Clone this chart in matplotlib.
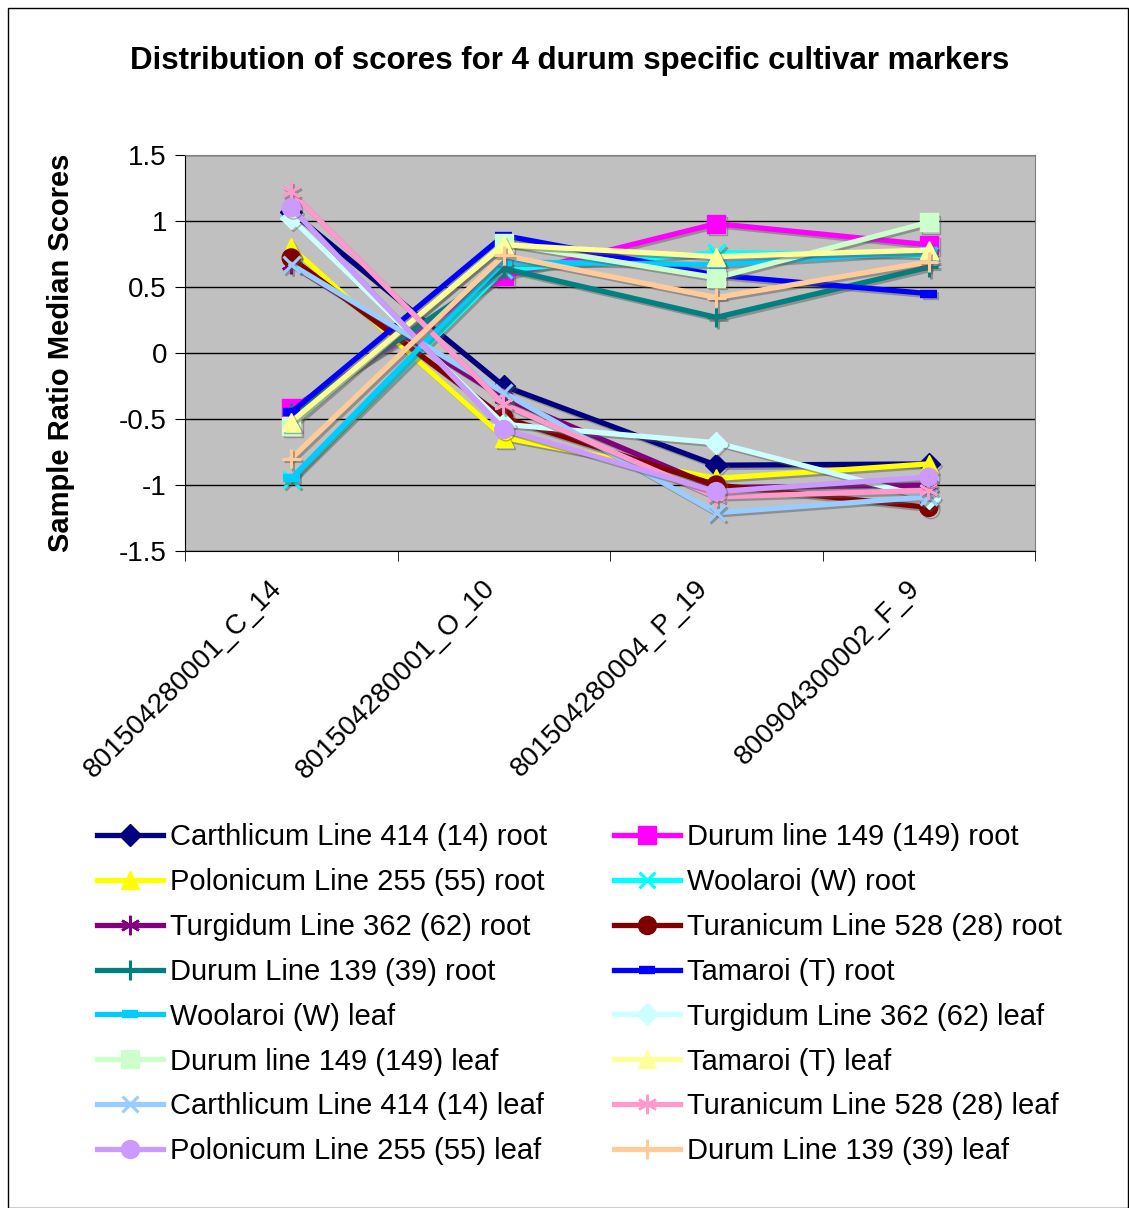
import matplotlib
matplotlib.use("Agg")
import matplotlib.pyplot as plt
import matplotlib.patheffects as pe
import matplotlib.transforms as mtransforms
from matplotlib.lines import Line2D
from matplotlib.patches import Rectangle
from matplotlib.ticker import FixedLocator

plt.rcParams['font.family'] = ['Liberation Sans', 'DejaVu Sans']

categories = ['801504280001_C_14', '801504280001_O_10',
              '801504280004_P_19', '800904300002_F_9']

series_names = [
    'Carthlicum Line 414 (14) root', 'Durum line 149 (149) root',
    'Polonicum Line 255 (55) root', 'Woolaroi (W) root',
    'Turgidum Line 362 (62) root', 'Turanicum Line 528 (28) root',
    'Durum Line 139 (39) root', 'Tamaroi (T) root',
    'Woolaroi (W) leaf', 'Turgidum Line 362 (62) leaf',
    'Durum line 149 (149) leaf', 'Tamaroi (T) leaf',
    'Carthlicum Line 414 (14) leaf', 'Turanicum Line 528 (28) leaf',
    'Polonicum Line 255 (55) leaf', 'Durum Line 139 (39) leaf',
]

carthlicum_root = [1.07, -0.25, -0.85, -0.84]
durum149_root = [-0.42, 0.58, 0.98, 0.82]
polonicum_root = [0.80, -0.64, -0.95, -0.84]
woolaroi_root = [-0.96, 0.63, 0.76, 0.74]
turgidum_root = [0.67, -0.34, -1.02, -1.00]
turanicum_root = [0.72, -0.49, -1.00, -1.17]
durum139_root = [-0.45, 0.64, 0.27, 0.65]
tamaroi_root = [-0.45, 0.89, 0.59, 0.45]
woolaroi_leaf = [-0.95, 0.69, 0.67, 0.77]
turgidum_leaf = [1.02, -0.54, -0.68, -1.10]
durum149_leaf = [-0.55, 0.83, 0.57, 0.99]
tamaroi_leaf = [-0.52, 0.82, 0.73, 0.78]
carthlicum_leaf = [0.67, -0.30, -1.21, -1.09]
turanicum_leaf = [1.22, -0.39, -1.09, -1.04]
polonicum_leaf = [1.10, -0.58, -1.05, -0.94]
durum139_leaf = [-0.80, 0.74, 0.42, 0.69]

series_values = [
    carthlicum_root, durum149_root, polonicum_root, woolaroi_root,
    turgidum_root, turanicum_root, durum139_root, tamaroi_root,
    woolaroi_leaf, turgidum_leaf, durum149_leaf, tamaroi_leaf,
    carthlicum_leaf, turanicum_leaf, polonicum_leaf, durum139_leaf,
]

colors = ['#000080', '#FF00FF', '#FFFF00', '#00FFFF', '#800080', '#800000',
          '#008080', '#0000FF', '#00CCFF', '#CCFFFF', '#CCFFCC', '#FFFF99',
          '#99CCFF', '#FF99CC', '#CC99FF', '#FFCC99']
asterisk = (6, 2, 0)
markers = ['D', 's', '^', 'x', asterisk, 'o', '+', '_',
           '_', 'D', 's', '^', 'x', asterisk, 'o', '+']
msizes = [11, 13, 13, 12, 14, 13, 14, 12, 12, 11, 13, 13, 12, 14, 13, 14]

fig = plt.figure(figsize=(11.29, 12.08), dpi=100)
fig.patch.set_facecolor('white')
fig.patches.append(Rectangle((8 / 1129, 0), 1120 / 1129, 1 - 8 / 1208,
                             transform=fig.transFigure, fill=False,
                             edgecolor='black', linewidth=1.0))

ax = fig.add_axes([185 / 1129, 1 - 551 / 1208, 850 / 1129, 396 / 1208])
ax.set_facecolor('#C0C0C0')

x = list(range(len(categories)))
shadow = [pe.SimpleLineShadow(offset=(1.6, -1.6), shadow_color='#555555', alpha=0.45),
          pe.Normal()]


def marker_width(m):
    if m == '_':
        return 6
    if m in ('x', '+'):
        return 2.2
    if m == asterisk:
        return 1.8
    return 1.0


legend_handles = []
for name, vals, c, m, ms in zip(series_names, series_values, colors, markers, msizes):
    style = dict(color=c, linewidth=3.8, marker=m, markersize=ms,
                 markerfacecolor=c, markeredgecolor=c,
                 markeredgewidth=marker_width(m))
    ax.plot(x, vals, label=name, path_effects=shadow, zorder=3, **style)
    legend_handles.append(Line2D([], [], **style))

ax.set_xlim(-0.5, 3.5)
ax.set_ylim(-1.5, 1.5)
ax.set_yticks([-1.5, -1, -0.5, 0, 0.5, 1, 1.5])
ax.set_yticklabels(['-1.5', '-1', '-0.5', '0', '0.5', '1', '1.5'])
ax.grid(axis='y', color='black', linewidth=1.0, zorder=1)
ax.set_axisbelow(True)

# category labels, rotated and ending just left of each category centre
ax.set_xticks(x)
ax.set_xticklabels([])
ax.tick_params(axis='x', which='major', length=0)
label_tf = ax.get_xaxis_transform() + mtransforms.ScaledTranslation(
    -22 / 100, -24 / 100, fig.dpi_scale_trans)
for xi, cat in zip(x, categories):
    ax.text(xi, 0, cat, transform=label_tf, rotation=45, ha='right', va='top',
            rotation_mode='anchor', fontsize=20)

ax.xaxis.set_minor_locator(FixedLocator([-0.5, 0.5, 1.5, 2.5, 3.5]))
ax.tick_params(axis='x', which='minor', length=7, direction='out', color='black')
ax.tick_params(axis='y', length=7, direction='out', labelsize=20, pad=6)

for s in ['top', 'right']:
    ax.spines[s].set_color('#808080')
for s in ['left', 'bottom']:
    ax.spines[s].set_color('black')

ax.set_ylabel('Sample Ratio Median Scores', fontsize=21, fontweight='bold', labelpad=32)
fig.text(570 / 1129, 1 - 61 / 1208,
         'Distribution of scores for 4 durum specific cultivar markers',
         ha='center', va='center', fontsize=22.5, fontweight='bold')

order = list(range(0, 16, 2)) + list(range(1, 16, 2))
fig.legend([legend_handles[i] for i in order], [series_names[i] for i in order],
           loc='upper left', bbox_to_anchor=(97 / 1129, 1 - 823 / 1208),
           ncol=2, frameon=False, fontsize=21, handlelength=2.25,
           handletextpad=0.25, columnspacing=2.3, labelspacing=0.58,
           borderaxespad=0, borderpad=0)

fig.savefig('out.png', dpi=100)
